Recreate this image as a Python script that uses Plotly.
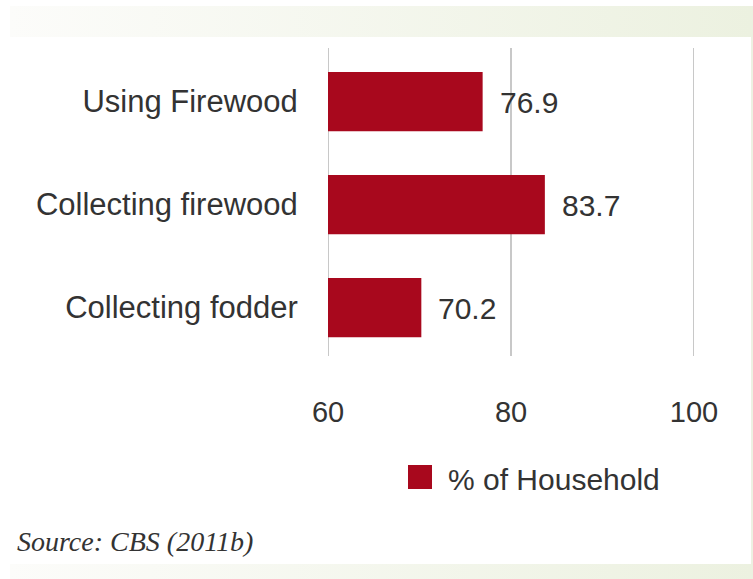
import base64
import plotly.graph_objects as go

# ---- data ----
categories = ["Using Firewood", "Collecting firewood", "Collecting fodder"]
values = [76.9, 83.7, 70.2]
series_name = "% of Household"
x_ticks = [60, 80, 100]
source_text = "Source: CBS (2011b)"

W, H = 753, 579
BAR = "#A8081D"
TXT = "#333333"
FONT = "Liberation Sans, Arial, sans-serif"

# plot area in pixels
L, R, T, B = 328, 694, 48, 356

fig = go.Figure()
fig.add_trace(go.Bar(
    y=categories, x=values, orientation="h",
    marker=dict(color=BAR, line=dict(width=0)),
    width=0.575, name=series_name, showlegend=False,
    hoverinfo="x+y",
))

# value labels next to bar ends
for c, v in zip(categories, values):
    fig.add_annotation(x=v, y=c, xref="x", yref="y", text=f"{v:.1f}",
                       showarrow=False, xanchor="left", yanchor="middle",
                       xshift=15, yshift=-1,
                       font=dict(family=FONT, size=30, color=TXT))

# gradient frame (top band, right strip, bottom band)
svg = ('<svg xmlns="http://www.w3.org/2000/svg" width="100" height="10" preserveAspectRatio="none">'
       '<defs><linearGradient id="g" x1="0" x2="1" y1="0" y2="0">'
       '<stop offset="0" stop-color="#fcfcfa"/><stop offset="1" stop-color="#ecf1e0"/>'
       '</linearGradient></defs><rect width="100" height="10" fill="url(#g)"/></svg>')
uri = "data:image/svg+xml;base64," + base64.b64encode(svg.encode()).decode()

def px_x(p):
    return (p - L) / (R - L)

def px_y(p):
    return (B - p) / (B - T)

images = []
for (x0, y0, x1, y1) in [(10, 6, 753, 37), (10, 564, 753, 579)]:
    images.append(dict(source=uri, xref="paper", yref="paper",
                       x=px_x(x0), y=px_y(y0),
                       sizex=(x1 - x0) / (R - L), sizey=(y1 - y0) / (B - T),
                       xanchor="left", yanchor="top", sizing="stretch",
                       layer="below"))

shapes = [
    dict(type="rect", xref="paper", yref="paper",
         x0=px_x(751), x1=px_x(753), y0=px_y(564), y1=px_y(37),
         fillcolor="#edf1e2", line=dict(width=0), layer="below"),
    # legend swatch
    dict(type="rect", xref="paper", yref="paper",
         x0=px_x(408), x1=px_x(432), y0=px_y(489), y1=px_y(465),
         fillcolor=BAR, line=dict(width=0)),
]
# vertical grid lines at tick values
for t in x_ticks:
    shapes.append(dict(type="line", xref="x", yref="paper", x0=t, x1=t, y0=0, y1=1,
                       line=dict(color="#c8c8c8", width=2), layer="below"))

annotations_extra = [
    dict(text=series_name, xref="paper", yref="paper",
         x=px_x(446), y=px_y(479), xanchor="left", yanchor="middle",
         showarrow=False, font=dict(family=FONT, size=30, color=TXT)),
    dict(text=f"<i>{source_text}</i>", xref="paper", yref="paper",
         x=px_x(15), y=px_y(541), xanchor="left", yanchor="middle",
         showarrow=False,
         font=dict(family="Liberation Serif, Times New Roman, serif", size=28, color="#333333")),
]
for a in annotations_extra:
    fig.add_annotation(**a)

fig.update_layout(
    width=W, height=H,
    margin=dict(l=L, r=W - R, t=T, b=H - B, pad=0),
    paper_bgcolor="white", plot_bgcolor="rgba(0,0,0,0)",
    showlegend=False,
    images=images, shapes=shapes,
)
fig.update_xaxes(range=[60, 100], tickvals=x_ticks, ticktext=[str(t) for t in x_ticks],
                 showgrid=False,
                 zeroline=False, showline=False, automargin=False,
                 ticks="outside", ticklen=30, tickcolor="rgba(0,0,0,0)",
                 tickfont=dict(family=FONT, size=29, color=TXT), fixedrange=True)
fig.update_yaxes(categoryorder="array", categoryarray=categories,
                 range=[2.47, -0.52], automargin=False,
                 showgrid=False, zeroline=False, showline=False,
                 ticks="outside", ticklen=23, tickcolor="rgba(0,0,0,0)",
                 tickfont=dict(family=FONT, size=31, color=TXT), fixedrange=True)

fig.write_html("out.html", config={"displayModeBar": False},
               post_script="document.body.style.margin='0';document.body.style.overflow='hidden';")
